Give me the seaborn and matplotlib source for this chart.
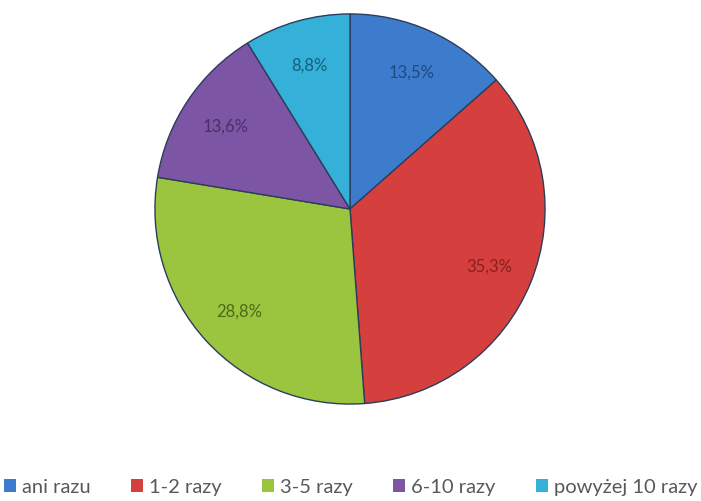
import matplotlib
matplotlib.use("Agg")
import matplotlib.pyplot as plt
from matplotlib.patches import Patch
import seaborn as sns

categories = ["ani razu", "1-2 razy", "3-5 razy", "6-10 razy", "powyżej 10 razy"]
shares = [13.5, 35.3, 28.8, 13.6, 8.8]
labels = ["13,5%", "35,3%", "28,8%", "13,6%", "8,8%"]

sns.set_theme(style="white")
plt.rcParams["font.family"] = ["Lato", "DejaVu Sans"]

fill_colors = sns.color_palette(["#3d7ccc", "#d53f3d", "#9bc53f", "#7d55a5", "#35b0d8"])
text_colors = ["#1f4a80", "#8a1f1e", "#4d6a18", "#4a2e68", "#17607a"]

fig = plt.figure(figsize=(7.01, 5.02), dpi=100)
ax = fig.add_axes([153 / 701, (502 - 407) / 502, 394 / 701, 394 / 502])

wedges, texts, autotexts = ax.pie(
    shares,
    colors=fill_colors,
    startangle=90,
    counterclock=False,
    radius=1.0,
    autopct="%1.1f%%",
    pctdistance=0.77,
    wedgeprops=dict(edgecolor="#2c3d5c", linewidth=1.0),
)
for t, lab, c in zip(autotexts, labels, text_colors):
    t.set_text(lab)
    t.set_color(c)
    t.set_fontsize(12)
ax.set_xlim(-1.01, 1.01)
ax.set_ylim(-1.01, 1.01)
ax.set_aspect("equal")
ax.axis("off")

handles = [Patch(facecolor=c, edgecolor="none") for c in fill_colors]
fig.legend(
    handles,
    categories,
    loc="center",
    bbox_to_anchor=(0.5, 1 - 488 / 502),
    ncol=5,
    frameon=False,
    fontsize=14.5,
    handlelength=0.6,
    handleheight=0.6,
    handletextpad=0.3,
    columnspacing=2.0,
    labelcolor="#595959",
)

fig.savefig("out.png", dpi=100, facecolor="white")
